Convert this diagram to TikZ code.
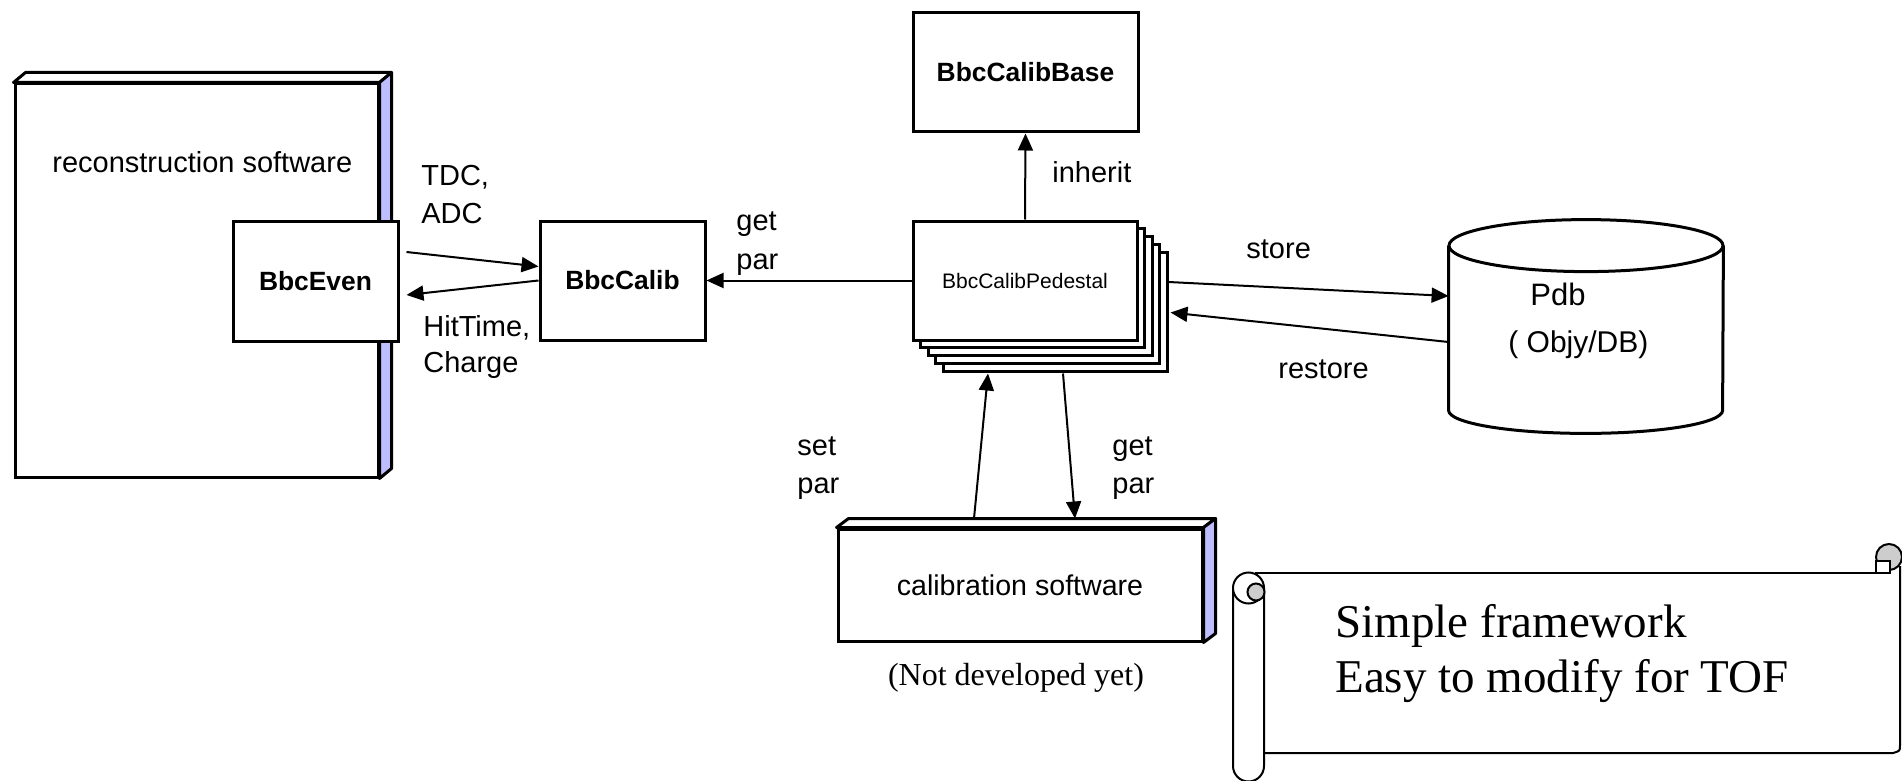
\documentclass[tikz,border=0pt]{standalone}
\usepackage{fontspec}
\setmainfont{Liberation Sans}
\newfontfamily\serifTNR{Liberation Serif}
\usetikzlibrary{arrows.meta,calc}
\definecolor{sideblue}{RGB}{190,190,255}
\definecolor{curlgray}{RGB}{205,205,205}
\begin{document}
\begin{tikzpicture}[x=0.5pt,y=-0.5pt,
  box/.style={draw, line width=1.5pt, fill=white, inner sep=0pt, line join=miter},
  face/.style={draw, line width=1.5pt, line join=round},
  conn/.style={line width=1pt},
  arr/.style={conn, -{Triangle[length=8.5pt,width=7.5pt]}},
  lbl/.style={anchor=base west, inner sep=0pt, font=\fontsize{14.5}{17}\selectfont},
  bname/.style={font=\bfseries\fontsize{13.2}{15}\selectfont},
  scrolltxt/.style={anchor=base west, inner sep=0pt, font=\serifTNR\fontsize{23.5}{27}\selectfont},
  scrollline/.style={line width=1pt}
]
\useasboundingbox (0,0) rectangle (1902,781);

% reconstruction software (3D box)
\node[box, minimum width=181.5pt, minimum height=196.5pt] (recon) at (196.5,280.5) {};
\draw[face, fill=white] (recon.north west) -- ++(12,-10) -- ([shift={(12,-10)}]recon.north east) -- (recon.north east) -- cycle;
\draw[face, fill=sideblue] (recon.north east) -- ++(12,-10) -- ([shift={(12,-10)}]recon.south east) -- (recon.south east) -- cycle;
\node[lbl] (recontext) at (52,172) {reconstruction software};

% BbcEven
\node[box, bname, minimum width=82.5pt, minimum height=60pt] (bbceven) at (315.5,281) {BbcEven};

% BbcCalib
\node[box, bname, minimum width=82.5pt, minimum height=59.5pt] (bbccalib) at (622.5,280.5) {BbcCalib};

% BbcCalibBase
\node[box, bname, minimum width=112.5pt, minimum height=59.5pt] (base) at (1025.5,72.5) {BbcCalibBase};

% BbcCalibPedestal stack
\foreach \k in {4,3,2,1} {
  \node[box, minimum width=112pt, minimum height=59.5pt] (ped\k) at (1025+7.5*\k,280.5+7.8*\k) {};
}
\node[box, minimum width=112pt, minimum height=59.5pt, font=\fontsize{10.5}{12}\selectfont] (ped) at (1025,280.5) {BbcCalibPedestal};

% Pdb cylinder
\node[inner sep=0pt, minimum width=137pt, minimum height=82pt] (pdb) at (1586,328) {};
\draw[line width=1.5pt, fill=white] (pdb.north west) -- (pdb.south west) arc[start angle=180, end angle=0, x radius=137, y radius=23] -- (pdb.north east);
\draw[line width=1.5pt, fill=white] (pdb.north) ellipse[x radius=137, y radius=26];
\node[anchor=base west, inner sep=0pt, font=\fontsize{15.5}{18}\selectfont] (pdbname) at (1530,305) {Pdb};
\node[anchor=base west, inner sep=0pt, font=\fontsize{15}{18}\selectfont] (objy) at (1508,352) {( Objy/DB)};

% calibration software (3D box)
\node[box, minimum width=182pt, minimum height=56pt, font=\fontsize{14.3}{17}\selectfont] (calib) at (1020,585) {calibration software};
\draw[face, fill=white] (calib.north west) -- ++(12,-9) -- ([shift={(12,-9)}]calib.north east) -- (calib.north east) -- cycle;
\draw[face, fill=sideblue] (calib.north east) -- ++(12,-9) -- ([shift={(12,-9)}]calib.south east) -- (calib.south east) -- cycle;
\node[anchor=base, inner sep=0pt, font=\serifTNR\fontsize{16}{19}\selectfont] (notdev) at (1016,685) {(Not developed yet)};

% connectors
\draw[arr] ($(bbceven.east)+(7,-29)$) -- ($(bbccalib.west)+(0,-14)$);
\draw[arr] (bbccalib.west) -- ($(bbceven.east)+(7,14)$);
\draw[arr] (ped.west) -- (bbccalib.east);
\draw[arr] (ped.north) -- (base.south);
\draw[arr] ($(ped.east)+(30,1.5)$) -- ($(pdb.west)+(0,-32)$);
\draw[arr] ($(pdb.west)+(0,14)$) -- ($(ped.east)+(32,32)$);
\draw[arr] ($(calib.north)+(-46,-9)$) -- ($(ped.south)+(-37,32)$);
\draw[arr] ($(ped.south)+(38,32)$) -- ($(calib.north)+(55,-9)$);

% labels
\node[lbl] (tdc) at (421,185) {TDC,};
\node[lbl] (adc) at (421,223) {ADC};
\node[lbl] (hit) at (423,336) {HitTime,};
\node[lbl] (chg) at (423,372) {Charge};
\node[lbl] (get1) at (736,230) {get};
\node[lbl] (par1) at (736,269) {par};
\node[lbl] (inh) at (1052,183) {inherit};
\node[lbl] (store) at (1246,258) {store};
\node[lbl] (restore) at (1278,378) {restore};
\node[lbl] (set2) at (797,455) {set};
\node[lbl] (par2) at (797,493) {par};
\node[lbl] (get3) at (1112,455) {get};
\node[lbl] (par3) at (1112,493) {par};

% scroll
\draw[scrollline] (1255,573) -- (1876,573);
\draw[scrollline] (1900,566) -- (1900,745) .. controls (1900,751) .. (1893,753) -- (1264,753);
\draw[scrollline, fill=curlgray] (1889,557) circle[radius=13];
\draw[scrollline, fill=white] (1876,561) rectangle (1890,573);
\draw[scrollline, fill=white] (1233,588) -- (1233,766) arc[start angle=180, end angle=0, radius=15.5] -- (1264,588);
\draw[scrollline, fill=white] (1248.5,588) circle[radius=15.5];
\draw[scrollline, fill=curlgray] (1256,592) circle[radius=8.5];
\node[scrolltxt] (s1) at (1335,637) {Simple framework};
\node[scrolltxt] (s2) at (1335,692) {Easy to modify for TOF};
\end{tikzpicture}
\end{document}
